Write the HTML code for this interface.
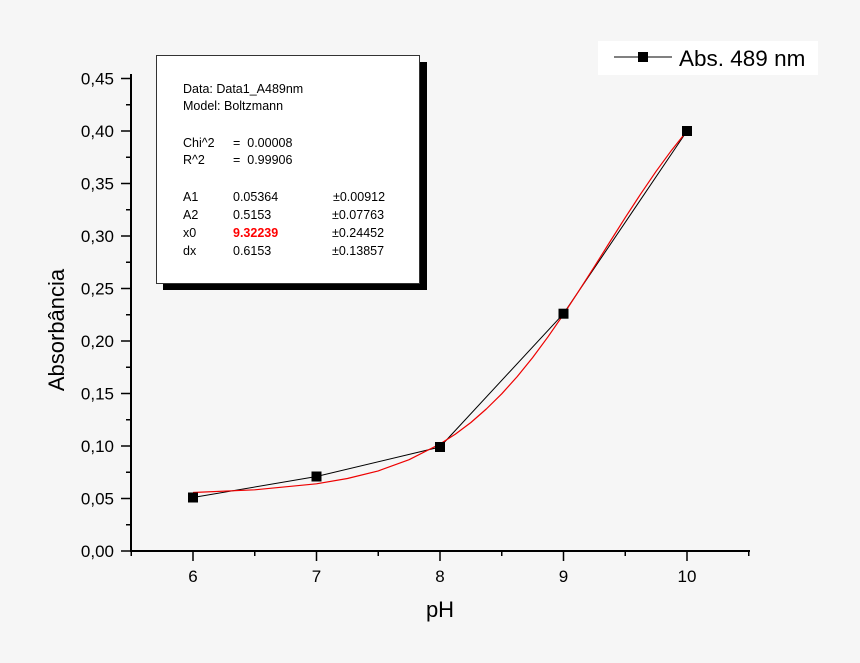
<!DOCTYPE html>
<html><head><style>body{margin:0;background:#f6f6f6}svg{display:block}text{font-family:"Liberation Sans",Arial,sans-serif}</style></head>
<body>
<svg width="860" height="663" viewBox="0 0 860 663" xmlns="http://www.w3.org/2000/svg">
<rect width="860" height="663" fill="#f6f6f6"/>
<g stroke="#000" stroke-width="2" fill="none">
<line x1="131" y1="74" x2="131" y2="552"/>
<line x1="130" y1="551" x2="750" y2="551"/>
</g>
<g stroke="#000" stroke-width="1.5">
<line x1="121" y1="551" x2="131" y2="551"/><line x1="121" y1="498.5" x2="131" y2="498.5"/><line x1="121" y1="446" x2="131" y2="446"/><line x1="121" y1="393.5" x2="131" y2="393.5"/><line x1="121" y1="341" x2="131" y2="341"/><line x1="121" y1="288.5" x2="131" y2="288.5"/><line x1="121" y1="236" x2="131" y2="236"/><line x1="121" y1="183.5" x2="131" y2="183.5"/><line x1="121" y1="131" x2="131" y2="131"/><line x1="121" y1="78.5" x2="131" y2="78.5"/>
<line x1="126" y1="524.75" x2="131" y2="524.75"/><line x1="126" y1="472.25" x2="131" y2="472.25"/><line x1="126" y1="419.75" x2="131" y2="419.75"/><line x1="126" y1="367.25" x2="131" y2="367.25"/><line x1="126" y1="314.75" x2="131" y2="314.75"/><line x1="126" y1="262.25" x2="131" y2="262.25"/><line x1="126" y1="209.75" x2="131" y2="209.75"/><line x1="126" y1="157.25" x2="131" y2="157.25"/><line x1="126" y1="104.75" x2="131" y2="104.75"/>
<line x1="193" y1="551" x2="193" y2="561"/><line x1="316.5" y1="551" x2="316.5" y2="561"/><line x1="440" y1="551" x2="440" y2="561"/><line x1="563.5" y1="551" x2="563.5" y2="561"/><line x1="687" y1="551" x2="687" y2="561"/>
<line x1="131.25" y1="551" x2="131.25" y2="556"/><line x1="254.75" y1="551" x2="254.75" y2="556"/><line x1="378.25" y1="551" x2="378.25" y2="556"/><line x1="501.75" y1="551" x2="501.75" y2="556"/><line x1="625.25" y1="551" x2="625.25" y2="556"/><line x1="748.75" y1="551" x2="748.75" y2="556"/>
</g>
<g font-size="17" text-anchor="end" fill="#000">
<text x="114" y="557">0,00</text><text x="114" y="504.5">0,05</text><text x="114" y="452">0,10</text><text x="114" y="399.5">0,15</text><text x="114" y="347">0,20</text><text x="114" y="294.5">0,25</text><text x="114" y="242">0,30</text><text x="114" y="189.5">0,35</text><text x="114" y="137">0,40</text><text x="114" y="84.5">0,45</text>
</g>
<g font-size="17" text-anchor="middle">
<text x="193" y="582">6</text><text x="316.5" y="582">7</text><text x="440" y="582">8</text><text x="563.5" y="582">9</text><text x="687" y="582">10</text>
</g>
<text x="440" y="617" font-size="22" text-anchor="middle">pH</text>
<text transform="translate(64,330) rotate(-90)" font-size="22" text-anchor="middle">Absorbância</text>
<polyline points="193,497.5 316.5,476.5 440,447 563.5,313.7 687,131" fill="none" stroke="#000" stroke-width="1"/>
<polyline points="193,492.5 254.75,489.8 316.5,483.8 347.4,478.5 378.25,470.9 409.1,459.7 440,444 455.4,434.1 470.9,422.5 486.3,409 501.75,393.8 517.2,376.6 532.6,357.6 548.1,336.7 563.5,314.4 578.9,290.8 594.4,266.6 609.8,242 625.25,217.6 640.7,193.9 656.1,171.3 671.6,150.2 687,130.9" fill="none" stroke="#e00" stroke-width="1.2" stroke-linejoin="round"/>
<g fill="#000">
<rect x="188" y="492.5" width="10" height="10"/><rect x="311.5" y="471.5" width="10" height="10"/><rect x="435" y="442" width="10" height="10"/><rect x="558.5" y="308.7" width="10" height="10"/><rect x="682" y="126" width="10" height="10"/>
</g>
<rect x="163" y="62" width="264" height="228" fill="#000"/>
<rect x="156.5" y="55.5" width="263" height="228" fill="#fff" stroke="#333" stroke-width="1"/>
<g font-size="12.5" fill="#000">
<text x="183" y="93">Data: Data1_A489nm</text>
<text x="183" y="110">Model: Boltzmann</text>
<text x="183" y="147">Chi^2</text><text x="233" y="147">=&#160; 0.00008</text>
<text x="183" y="164">R^2</text><text x="233" y="164">=&#160; 0.99906</text>
<text x="183" y="201">A1</text><text x="233" y="201">0.05364</text><text x="333" y="201">±0.00912</text>
<text x="183" y="219">A2</text><text x="233" y="219">0.5153</text><text x="332" y="219">±0.07763</text>
<text x="183" y="237">x0</text><text x="233" y="237" fill="#f00" font-weight="bold">9.32239</text><text x="332" y="237">±0.24452</text>
<text x="183" y="255">dx</text><text x="233" y="255">0.6153</text><text x="332" y="255">±0.13857</text>
</g>
<rect x="598" y="41" width="220" height="34" fill="#fff"/>
<line x1="614" y1="57" x2="672" y2="57" stroke="#000" stroke-width="1"/>
<rect x="638" y="52" width="10" height="10" fill="#000"/>
<text x="679" y="66" font-size="22.5">Abs. 489 nm</text>
</svg>
</body></html>
